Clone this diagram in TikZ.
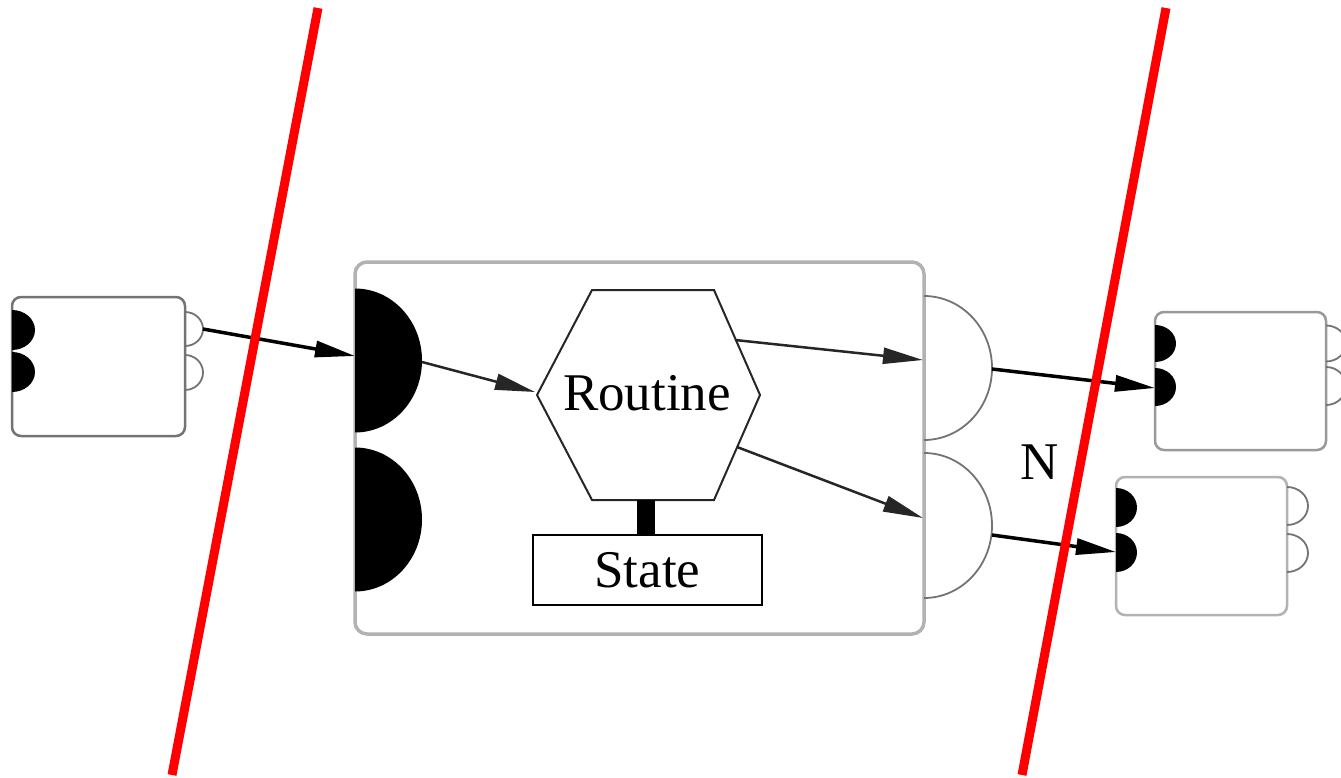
\documentclass[tikz,border=0pt]{standalone}
\usepackage{fontspec}
\setmainfont{Liberation Serif}
\usetikzlibrary{arrows.meta}
\definecolor{cutred}{RGB}{255,0,0}
\begin{document}
\begin{tikzpicture}[x=1pt,y=-1pt,
  label font/.style={font=\fontsize{53}{60}\selectfont},
  smallbox/.style={draw=#1, line width=2.5pt, rounded corners=9pt, fill=white, inner sep=0pt},
  mainbox/.style={draw=black!30, line width=3.5pt, rounded corners=12pt, fill=white, inner sep=0pt},
  statebox/.style={draw=black, line width=2.5pt, fill=white, inner sep=0pt, label font},
  hexline/.style={draw=black!85, line width=2pt, line join=miter},
  portline/.style={draw=black!55, line width=1.8pt},
  flow/.style={line width=3.5pt, -{Triangle[length=40pt,width=16pt]}},
  innerflow/.style={line width=2.5pt, draw=black!85, -{Triangle[length=40pt,width=16pt]}},
  stem/.style={line width=18pt},
  cutline/.style={draw=cutred, line width=9pt},
  pics/inport/.style 2 args={code={
    \fill[black] (0,-#2) arc[start angle=90,end angle=-90,x radius=#1pt,y radius=#2pt] -- cycle;}},
  pics/outport/.style 2 args={code={
    \draw[portline] (0,-#2) arc[start angle=90,end angle=-90,x radius=#1pt,y radius=#2pt];}},
]
\useasboundingbox (0,0) rectangle (1341,778);
\clip (0,0) rectangle (1341,778);

% upstream component
\node[smallbox=black!55, minimum width=173pt, minimum height=139pt] (src) at (98.5,366.5) {};
\pic at (12,330) {inport={23}{20}};
\pic at (12,372) {inport={23}{20}};
\pic at (185,329) {outport={18}{17}};
\pic at (185,372.5) {outport={18}{17.5}};
\coordinate (src-o1) at (203,329);

% the component with its routine and state
\node[mainbox, minimum width=569pt, minimum height=372pt] (comp) at (639.5,448) {};
\pic at (355,360.5) {inport={67}{72}};
\pic at (355,519.5) {inport={67}{72}};
\pic at (924,368) {outport={68}{72}};
\pic at (924,525.5) {outport={68}{72.5}};
\coordinate (comp-i1) at (355,356);
\coordinate (comp-i1t) at (422,362);
\coordinate (comp-o1) at (923,360);
\coordinate (comp-o2) at (923,518);
\coordinate (comp-o1t) at (992,369);
\coordinate (comp-o2t) at (992,535);

% routine hexagon
\draw[hexline, fill=white] (592,290) -- (714,290) -- (760,395) -- (714,500) -- (592,500) -- (537,395) -- cycle;
\node[label font, inner sep=0pt] (rt) at (647,393) {Routine};
\coordinate (rt-w) at (535,392);
\coordinate (rt-ne) at (735,340);
\coordinate (rt-se) at (737,447);
\coordinate (rt-s) at (645.5,500);

% state
\node[statebox, minimum width=229pt, minimum height=70pt] (st) at (647.5,570) {State};
\draw[stem] (rt-s) -- (rt-s |- st.north);

% downstream components
\node[smallbox=black!40, minimum width=171pt, minimum height=138pt] (dstA) at (1240.5,381) {};
\pic at (1155,343.5) {inport={21}{18.5}};
\pic at (1155,387) {inport={21}{19}};
\pic at (1326,343.5) {outport={20}{18}};
\pic at (1326,386) {outport={20}{19}};
\coordinate (dstA-i2) at (1155,388);

\node[smallbox=black!30, minimum width=171pt, minimum height=138pt] (dstB) at (1201.5,546) {};
\pic at (1116,507.5) {inport={21}{19.5}};
\pic at (1116,552.5) {inport={21}{19.5}};
\pic at (1287,506) {outport={21}{19}};
\pic at (1287,553) {outport={21}{19}};
\coordinate (dstB-i2) at (1116,552);

% flows
\draw[flow] (src-o1) -- (comp-i1);
\draw[innerflow] (comp-i1t) -- (rt-w);
\draw[innerflow] (rt-ne) -- (comp-o1);
\draw[innerflow] (rt-se) -- (comp-o2);
\draw[flow] (comp-o1t) -- (dstA-i2);
\draw[flow] (comp-o2t) -- (dstB-i2);

\node[label font, inner sep=0pt] (mult) at (1040,462) {N};

% cut lines
\draw[cutline] (318,8) -- (172,775);
\draw[cutline] (1166,8) -- (1022,775);
\end{tikzpicture}
\end{document}
